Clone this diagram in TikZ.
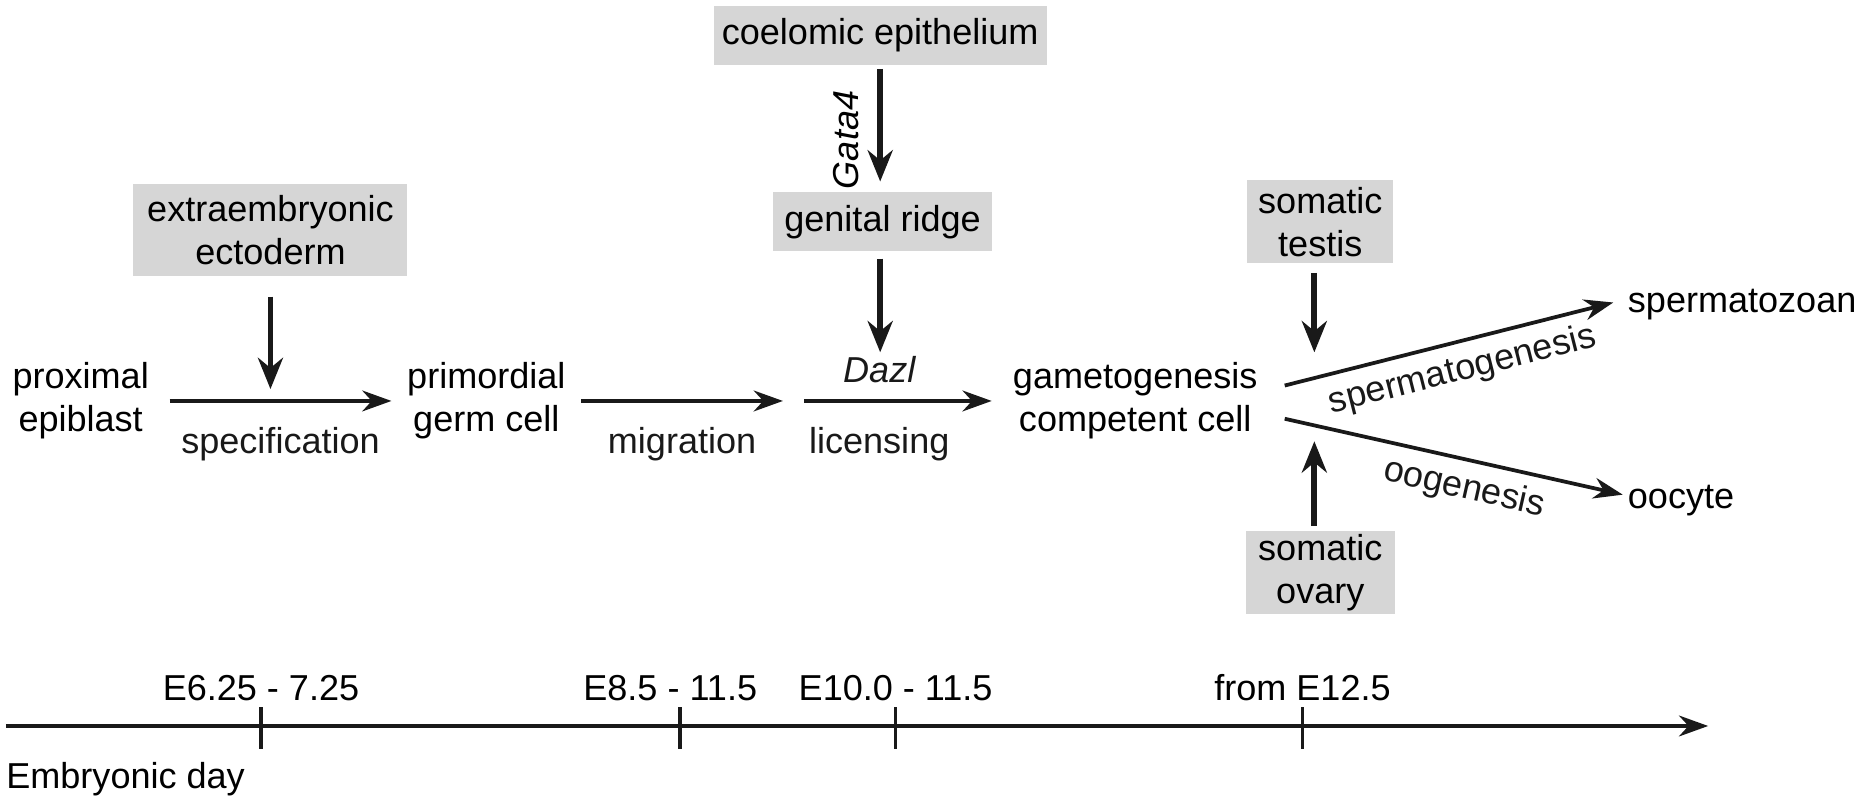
\documentclass[tikz,border=0pt]{standalone}
\usepackage{fontspec}
\setmainfont{Liberation Sans}
\usetikzlibrary{arrows.meta}
\begin{document}
\begin{tikzpicture}[x=0.02cm,y=-0.02cm,
  font=\fontsize{17.3}{20.5}\selectfont,
  box/.style={fill=black!16,inner sep=0pt,align=center},
  txt/.style={align=center,inner sep=0pt},
  arr/.style={line width=1.8pt,color=black!90,-{Stealth[length=14pt,width=10pt]}},
  varr/.style={line width=2.8pt,color=black!90,-{Stealth[length=15pt,width=12pt]}},
  tick/.style={line width=1.8pt,color=black!90}]
\useasboundingbox (0,0) rectangle (1568,674);
\node[box,minimum width=5.62cm,minimum height=1cm] (ce) at (742,30) {coelomic epithelium};
\node[box,minimum width=3.68cm,minimum height=1cm] (gr) at (744,187) {genital ridge};
\node[box,minimum width=4.62cm,minimum height=1.56cm] (ee) at (228,194) {extraembryonic\\ectoderm};
\node[box,minimum width=2.46cm,minimum height=1.4cm] (st) at (1113,187) {somatic\\testis};
\node[box,minimum width=2.52cm,minimum height=1.4cm] (so) at (1113,483) {somatic\\ovary};
\node[txt] (pe) at (68,338) {proximal\\epiblast};
\node[txt] (pgc) at (410,338) {primordial\\germ cell};
\node[txt] (gcc) at (957,338) {gametogenesis\\competent cell};
\node[txt,anchor=west] (sz) at (1372,257) {spermatozoan};
\node[txt,anchor=west] (oo) at (1372,422) {oocyte};
\coordinate (a1) at (143,338); \coordinate (a2) at (330,338);
\coordinate (b1) at (490,338); \coordinate (b2) at (660,338);
\coordinate (c1) at (678,338); \coordinate (c2) at (836,338);
\coordinate (s1) at (1083,325); \coordinate (s2) at (1360,255);
\coordinate (o1) at (1083,353); \coordinate (o2) at (1368,417);
\draw[varr] (742,58) -- (742,153);
\node[txt,rotate=90,font=\fontsize{17.3}{20.5}\selectfont\itshape] (g4) at (713,118) {Gata4};
\draw[varr] (742,218) -- (742,297);
\draw[varr] (228,250) -- (228,328);
\draw[varr] (1108,230) -- (1108,297);
\draw[varr] (1108,443) -- (1108,372);
\draw[arr] (a1) -- (a2) node[midway,below=12pt,txt] (l1) {specification};
\draw[arr] (b1) -- (b2) node[midway,below=12pt,txt] (l2) {migration};
\draw[arr] (c1) -- (c2) node[pos=0.4,below=12pt,txt] (l3) {licensing}
   node[pos=0.4,above=8pt,txt,font=\fontsize{17.3}{20.5}\selectfont\itshape] (dz) {Dazl};
\draw[arr] (s1) -- (s2) node[pos=0.52,sloped,below=5pt,txt] (l4) {spermatogenesis};
\draw[arr] (o1) -- (o2) node[pos=0.55,sloped,below=5pt,txt] (l5) {oogenesis};
\coordinate (t0) at (5,612); \coordinate (t1) at (1440,612);
\draw[arr] (t0) -- (t1);
\foreach \x/\lab/\lx in {220/E6.25 - 7.25/220,573/E8.5 - 11.5/565,755/E10.0 - 11.5/755,1098/from E12.5/1098}{
  \draw[tick] (\x,596) -- (\x,631);
  \node[txt] at (\lx,580) {\lab};}
\node[txt,anchor=west] (ed) at (5,657) {Embryonic day};
\end{tikzpicture}
\end{document}
